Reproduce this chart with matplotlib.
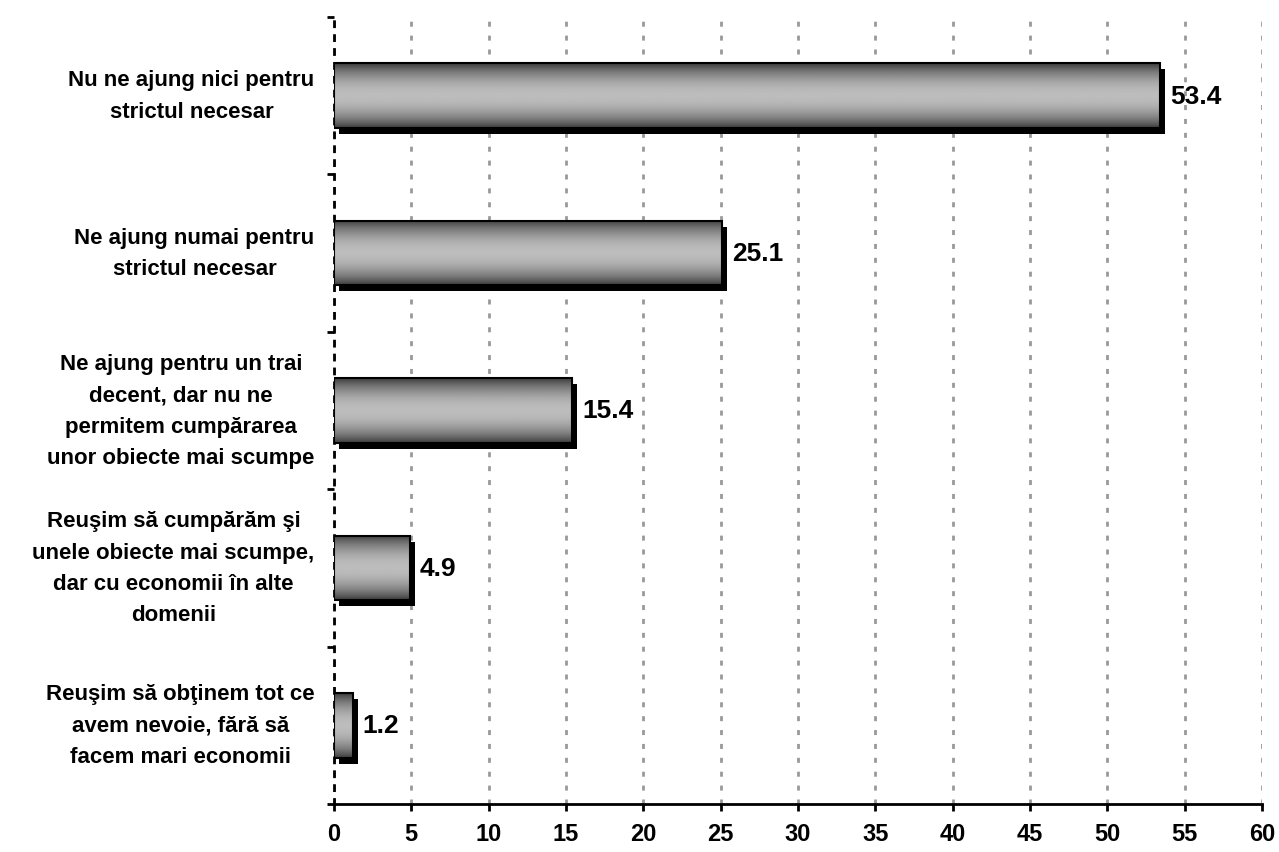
import numpy as np
import matplotlib
matplotlib.use('Agg')
import matplotlib.pyplot as plt
import matplotlib.transforms as mtransforms
from matplotlib.colors import LinearSegmentedColormap

plt.rcParams['font.family'] = ['Liberation Sans', 'DejaVu Sans']
plt.rcParams['font.weight'] = 'bold'

# Datos
categorias = [
    'Nu ne ajung nici pentru\nstrictul necesar',
    'Ne ajung numai pentru\nstrictul necesar',
    'Ne ajung pentru un trai\ndecent, dar nu ne\npermitem cumpărarea\nunor obiecte mai scumpe',
    'Reuşim să cumpărăm şi\nunele obiecte mai scumpe,\ndar cu economii în alte\ndomenii',
    'Reuşim să obţinem tot ce\navem nevoie, fără să\nfacem mari economii',
]
valores = [53.4, 25.1, 15.4, 4.9, 1.2]
xticks = list(range(0, 65, 5))

fig = plt.figure(figsize=(12.79, 8.53), dpi=100)
ax = fig.add_axes([0.2611, 0.0563, 0.7256, 0.9226])

pos = np.arange(len(valores))
alto = 0.41

# sombra
offset = mtransforms.ScaledTranslation(5 / 100, -6 / 100, fig.dpi_scale_trans)
sombras = ax.barh(pos, valores, height=alto, color='black', zorder=2)
for p in sombras:
    p.set_transform(ax.transData + offset)

# barras con degradado
t = np.linspace(0, 1, 100)
perfil = 0.22 + 0.52 * np.sin(np.pi * t) ** 0.8
grad = perfil.reshape(-1, 1)
cmap = LinearSegmentedColormap.from_list('g', ['black', 'white'])
for i, v in enumerate(valores):
    ax.imshow(grad, extent=[0, v, i + alto / 2, i - alto / 2], aspect='auto',
              cmap=cmap, vmin=0, vmax=1, zorder=3, interpolation='bilinear')
ax.barh(pos, valores, height=alto, fill=False, edgecolor='black', linewidth=1.5, zorder=4)

# etiquetas de valor
txt_off = mtransforms.ScaledTranslation(10 / 100, 0, fig.dpi_scale_trans)
for i, v in enumerate(valores):
    ax.text(v, i, f'{v}', va='center', ha='left', fontsize=19, fontweight='bold',
            transform=ax.transData + txt_off, zorder=5)

ax.set_xlim(0, 60)
ax.set_ylim(len(valores) - 0.5, -0.5)
ax.set_xticks(xticks)
ax.set_xticklabels([str(x) for x in xticks], fontsize=17, fontweight='bold')
ax.set_yticks(pos)
ax.set_yticklabels(categorias, fontsize=16, fontweight='bold', linespacing=1.65,
                   multialignment='center', va='center')
ax.set_yticks(np.arange(-0.5, len(valores)), minor=True)
ax.tick_params(axis='y', which='major', length=0, pad=14)
ax.tick_params(axis='y', which='minor', length=5, width=2, direction='out')
ax.tick_params(axis='x', length=5, width=2, direction='out', pad=8)

ax.xaxis.grid(True, color='#999999', linestyle=(0, (1.8, 3.2)), linewidth=2)
ax.set_axisbelow(True)

for s in ['top', 'right']:
    ax.spines[s].set_visible(False)
ax.spines['left'].set_linestyle((0, (1.8, 3.2)))
ax.spines['left'].set_linewidth(2)
ax.spines['bottom'].set_linewidth(2)

fig.savefig('out.png', dpi=100)
